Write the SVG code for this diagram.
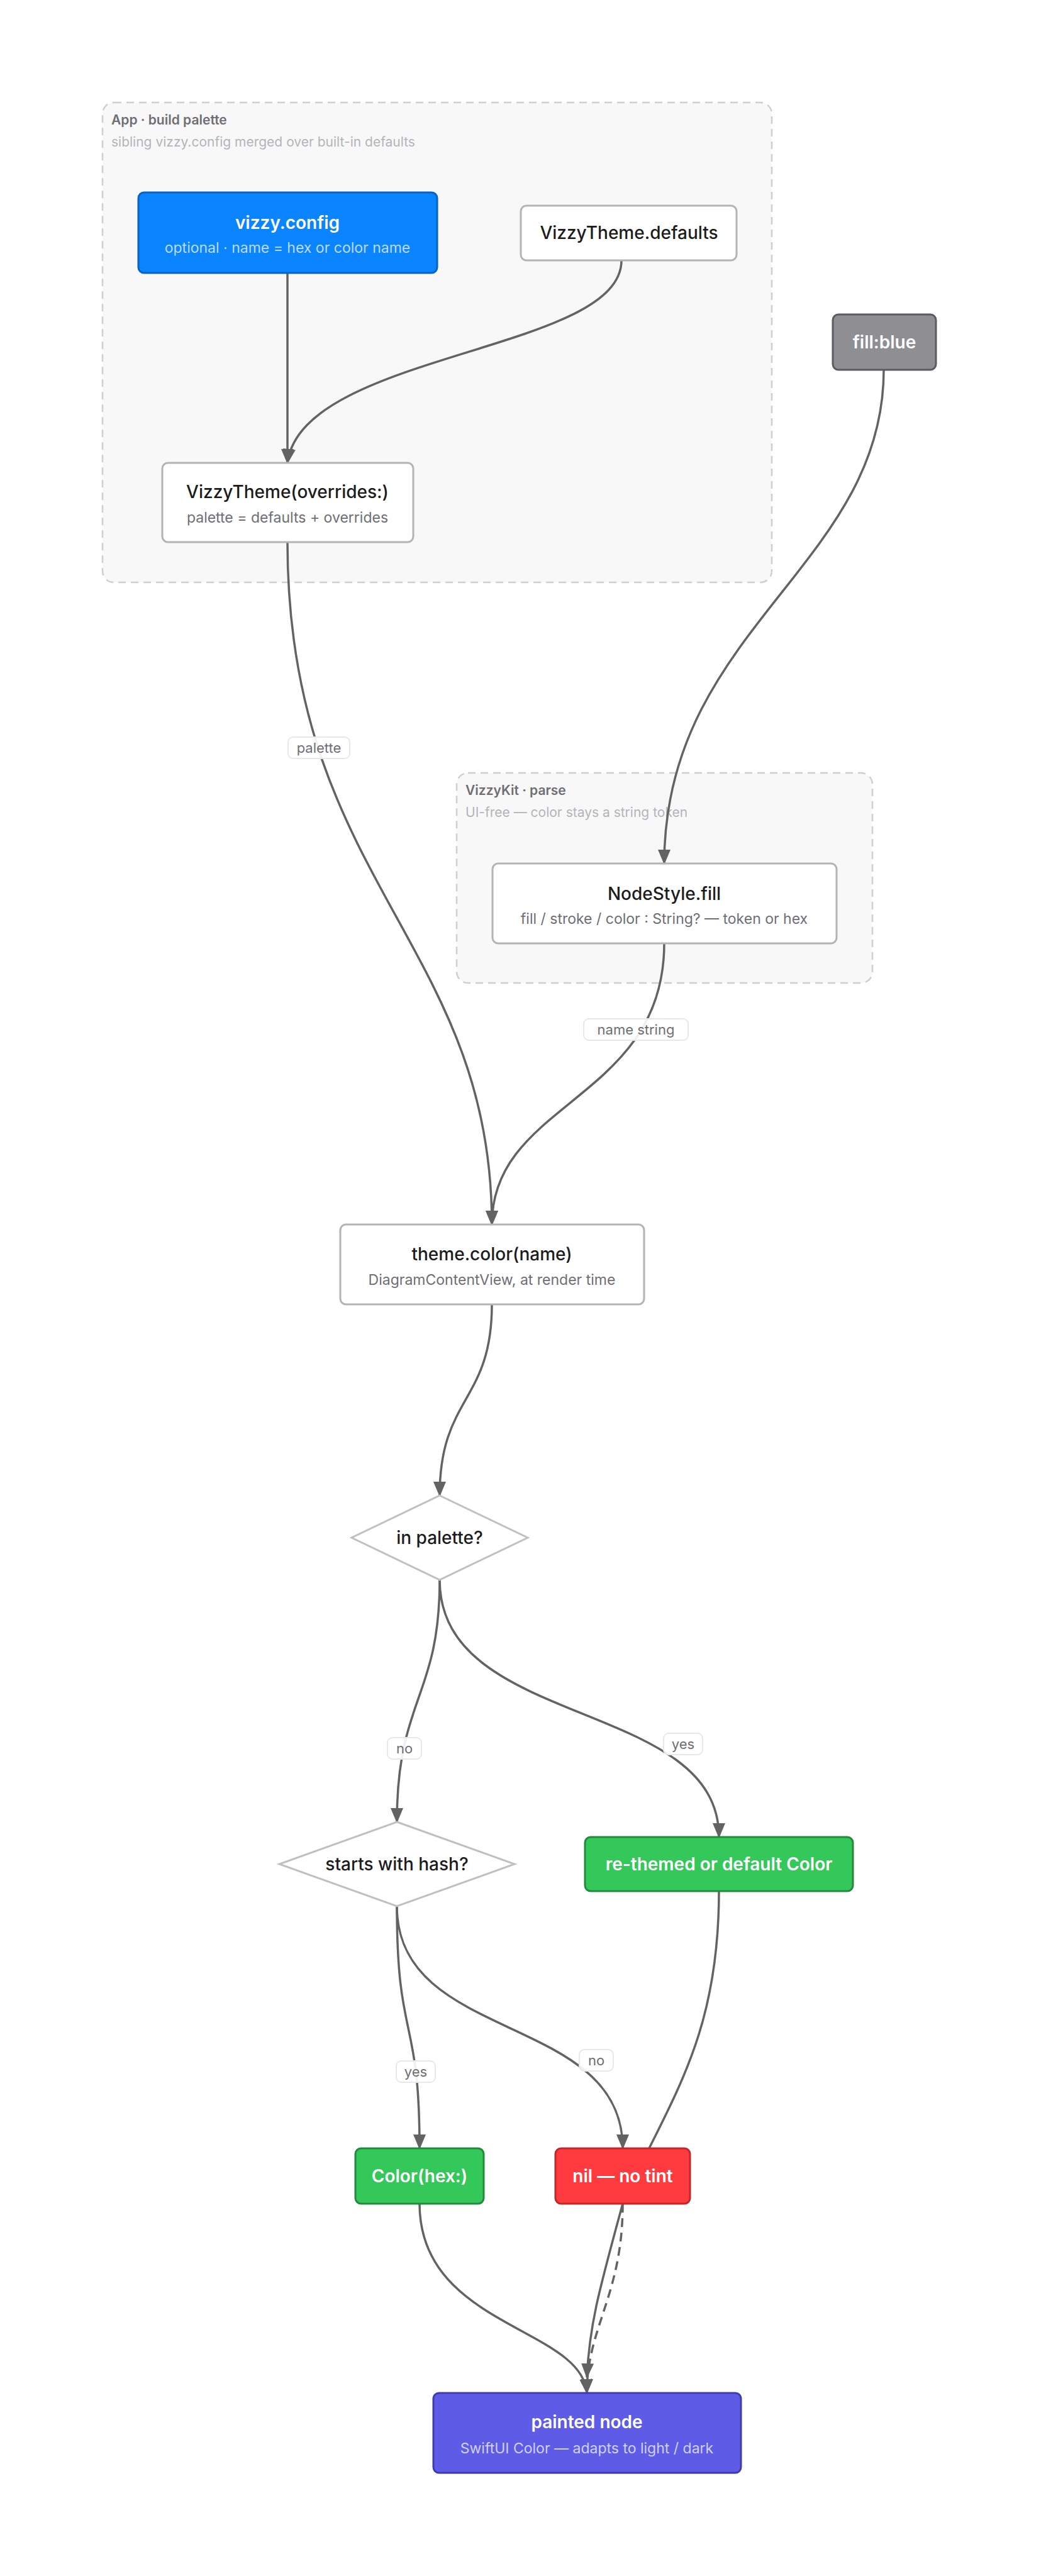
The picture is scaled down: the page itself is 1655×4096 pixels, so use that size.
<svg xmlns="http://www.w3.org/2000/svg" width="1655" height="4096" viewBox="0 0 1655 4096">
<style>
text{font-family:Inter,"Liberation Sans",sans-serif;text-anchor:middle}
.grp{fill:#f8f8f8;stroke:#cfcfd2;stroke-width:2.5;stroke-dasharray:12 8}
.gt{font-size:21px;font-weight:600;fill:#6e6e73;text-anchor:start}
.gs{font-size:21px;fill:#b4b4b8;text-anchor:start}
.box{fill:#fff;stroke:#b4b4b4;stroke-width:3}
.t{font-size:28px;fill:#1c1c1e;font-weight:500}
.s{font-size:23px;fill:#6e6e73}
.tw{font-size:28px;fill:#fff;font-weight:600}
.sw{font-size:23px;fill:#fff;fill-opacity:0.72}
.e{fill:none;stroke:#636366;stroke-width:3.5}
.lb{fill:#fff;fill-opacity:0.9;stroke:#e8e8ec;stroke-width:2}
.l{font-size:22px;fill:#6e6e73}
</style>
<defs>
<marker id="ah" viewBox="0 0 10 10" refX="9" refY="5" markerWidth="6" markerHeight="6" markerUnits="userSpaceOnUse" orient="auto-start-reverse">
<path d="M0,0 L10,5 L0,10 z" fill="#636366" transform="scale(1)"/>
</marker>
<marker id="a" viewBox="0 0 24 24" refX="22" refY="12" markerWidth="24" markerHeight="24" markerUnits="userSpaceOnUse" orient="auto">
<path d="M0,2 L24,12 L0,22 z" fill="#636366"/>
</marker>
</defs>
<rect width="1655" height="4096" fill="#fff"/>
<g id="group-app">
<rect class="grp" x="163" y="163" width="1064" height="763" rx="18"/>
<text class="gt" x="177" y="198">App · build palette</text>
<text class="gs" x="177" y="233">sibling vizzy.config merged over built-in defaults</text>
</g>
<g id="group-vizzykit">
<rect class="grp" x="726" y="1229" width="661" height="334" rx="18"/>
<text class="gt" x="740" y="1264">VizzyKit · parse</text>
<text class="gs" x="740" y="1299">UI-free — color stays a string token</text>
</g>
<g id="connectors">
<path class="e" d="M1143,3007 C1143,3200 1090,3300 1032,3416 L990,3504 C950,3650 937,3700 933,3780" marker-end="url(#a)"/>
<path class="e" d="M457,434 L457,736" marker-end="url(#a)"/>
<path class="e" d="M988,414 C988,560 480,560 457,736" marker-end="url(#a)"/>
<path class="e" d="M1405,588 C1405,900 1056,1000 1056,1373" marker-end="url(#a)"/>
<path class="e" d="M457,862 C457,1400 782,1500 782,1947" marker-end="url(#a)"/>
<path class="e" d="M1056,1500 C1056,1750 782,1750 782,1947" marker-end="url(#a)"/>
<path class="e" d="M782,2074 C782,2230 699,2220 699,2378" marker-end="url(#a)"/>
<path class="e" d="M699,2512 C699,2700 631,2700 631,2897" marker-end="url(#a)"/>
<path class="e" d="M699,2512 C699,2750 1143,2700 1143,2921" marker-end="url(#a)"/>
<path class="e" d="M631,3031 C631,3250 667,3200 667,3416" marker-end="url(#a)"/>
<path class="e" d="M631,3031 C631,3250 990,3200 990,3416" marker-end="url(#a)"/>
<path class="e" d="M667,3504 C667,3700 925,3700 933,3805" marker-end="url(#a)"/>
<path class="e" d="M990,3504 C990,3650 933,3700 933,3805" stroke-dasharray="14 9" marker-end="url(#a)"/>
<rect class="lb" x="458" y="1172" width="98" height="34" rx="8"/><text class="l" x="507" y="1197">palette</text>
<rect class="lb" x="928" y="1620" width="166" height="34" rx="8"/><text class="l" x="1011" y="1645">name string</text>
<rect class="lb" x="616" y="2763" width="54" height="34" rx="8"/><text class="l" x="643" y="2788">no</text>
<rect class="lb" x="1055" y="2756" width="62" height="34" rx="8"/><text class="l" x="1086" y="2781">yes</text>
<rect class="lb" x="921" y="3259" width="54" height="34" rx="8"/><text class="l" x="948" y="3284">no</text>
<rect class="lb" x="630" y="3277" width="62" height="34" rx="8"/><text class="l" x="661" y="3302">yes</text>
</g>
<g id="vizzy-config">
<rect x="220" y="306" width="475" height="128" rx="9" fill="#0a84ff" stroke="#0a62c4" stroke-width="3"/>
<text class="tw" x="457" y="364">vizzy.config</text>
<text class="sw" x="457" y="402">optional · name = hex or color name</text>
</g>
<g id="theme-defaults">
<rect class="box" x="828" y="327" width="343" height="87" rx="9"/>
<text class="t" x="1000" y="380">VizzyTheme.defaults</text>
</g>
<g id="theme-overrides">
<rect class="box" x="258" y="736" width="399" height="126" rx="9"/>
<text class="t" x="457" y="792">VizzyTheme(overrides:)</text>
<text class="s" x="457" y="831">palette = defaults + overrides</text>
</g>
<g id="fill-blue">
<rect x="1324" y="500" width="164" height="88" rx="9" fill="#8e8e93" stroke="#5c5c60" stroke-width="3"/>
<text class="tw" x="1406" y="554">fill:blue</text>
</g>
<g id="nodestyle-fill">
<rect class="box" x="783" y="1373" width="547" height="127" rx="9"/>
<text class="t" x="1056" y="1431">NodeStyle.fill</text>
<text class="s" x="1056" y="1469">fill / stroke / color : String? — token or hex</text>
</g>
<g id="theme-color">
<rect class="box" x="541" y="1947" width="483" height="127" rx="9"/>
<text class="t" x="782" y="2004">theme.color(name)</text>
<text class="s" x="782" y="2043">DiagramContentView, at render time</text>
</g>
<g id="in-palette">
<polygon points="699,2378 839,2445 699,2512 559,2445" fill="#fff" stroke="#c0c0c0" stroke-width="3"/>
<text class="t" x="699" y="2455">in palette?</text>
</g>
<g id="starts-hash">
<polygon points="631,2897 818,2964 631,3031 444,2964" fill="#fff" stroke="#c0c0c0" stroke-width="3"/>
<text class="t" x="631" y="2974">starts with hash?</text>
</g>
<g id="rethemed">
<rect x="930" y="2921" width="426" height="86" rx="9" fill="#34c759" stroke="#248a3d" stroke-width="3"/>
<text class="tw" x="1143" y="2974">re-themed or default Color</text>
</g>
<g id="color-hex">
<rect x="565" y="3416" width="204" height="88" rx="9" fill="#34c759" stroke="#248a3d" stroke-width="3"/>
<text class="tw" x="667" y="3470">Color(hex:)</text>
</g>
<g id="nil">
<rect x="883" y="3416" width="214" height="88" rx="9" fill="#ff3b40" stroke="#c4262b" stroke-width="3"/>
<text class="tw" x="990" y="3470">nil — no tint</text>
</g>
<g id="painted">
<rect x="689" y="3805" width="489" height="127" rx="9" fill="#5e5ce6" stroke="#3f3cb0" stroke-width="3"/>
<text class="tw" x="933" y="3861">painted node</text>
<text class="sw" x="933" y="3901">SwiftUI Color — adapts to light / dark</text>
</g>
</svg>
